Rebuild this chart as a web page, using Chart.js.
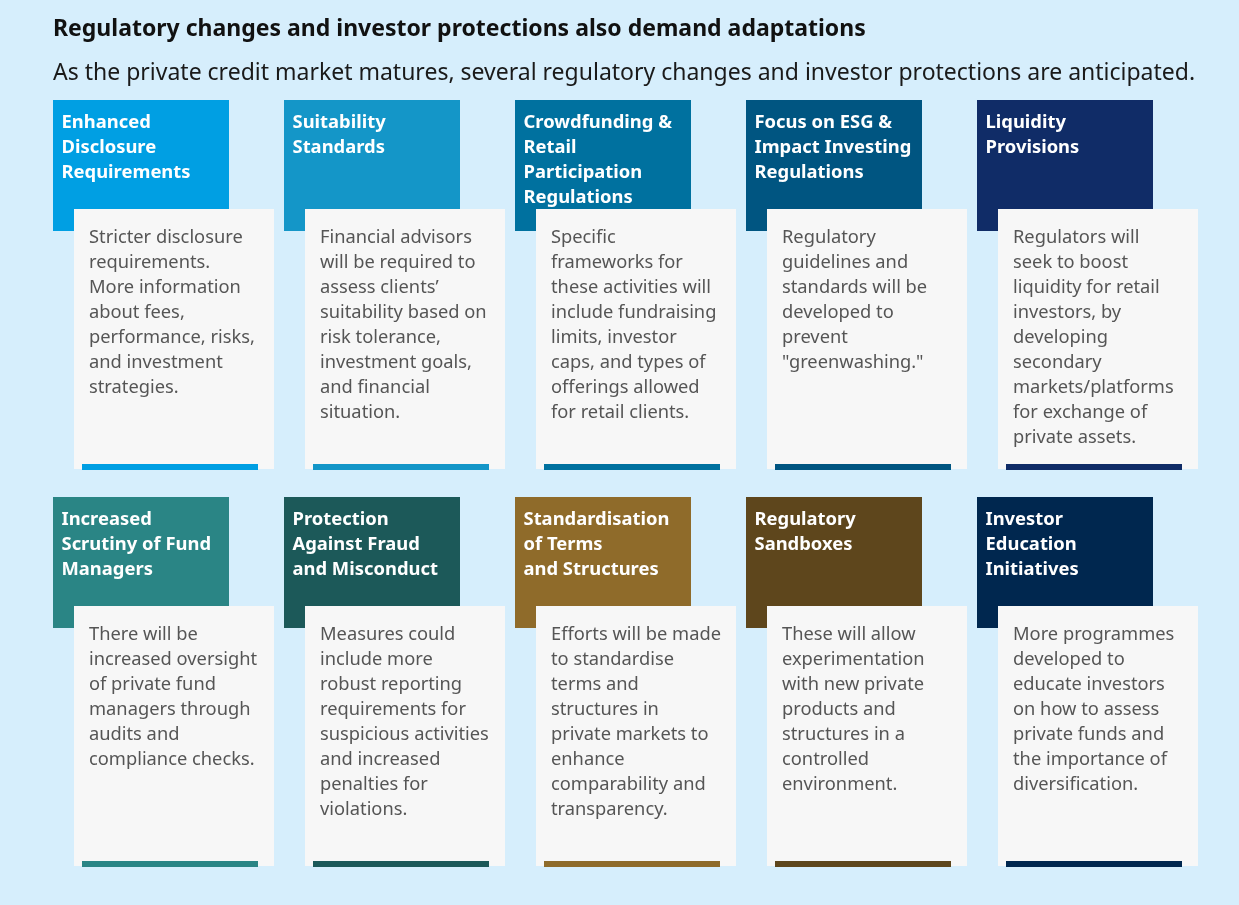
<!DOCTYPE html>
<html>
<head>
<meta charset="utf-8">
<script src="https://cdn.jsdelivr.net/npm/chart.js@4.4.1/dist/chart.umd.min.js"></script>
<style>
html,body{margin:0;padding:0;background:#d6eefc;}
#wrap{position:relative;width:1239px;height:905px;}
</style>
</head>
<body>
<div id="wrap"><canvas id="c" width="1239" height="905"></canvas></div>
<script>
const titleText = "Regulatory changes and investor protections also demand adaptations";
const subtitleText = "As the private credit market matures, several regulatory changes and investor protections are anticipated.";
const columns = [0, 1, 2, 3, 4, 0, 1, 2, 3, 4];
const rows = [0, 0, 0, 0, 0, 1, 1, 1, 1, 1];
const headings = [
  ["Enhanced", "Disclosure", "Requirements"],
  ["Suitability", "Standards"],
  ["Crowdfunding &", "Retail", "Participation", "Regulations"],
  ["Focus on ESG &", "Impact Investing", "Regulations"],
  ["Liquidity", "Provisions"],
  ["Increased", "Scrutiny of Fund", "Managers"],
  ["Protection", "Against Fraud", "and Misconduct"],
  ["Standardisation", "of Terms", "and Structures"],
  ["Regulatory", "Sandboxes"],
  ["Investor", "Education", "Initiatives"]
];
const descriptions = [
  ["Stricter disclosure", "requirements.", "More information", "about fees,", "performance, risks,", "and investment", "strategies."],
  ["Financial advisors", "will be required to", "assess clients\u2019", "suitability based on", "risk tolerance,", "investment goals,", "and financial", "situation."],
  ["Specific", "frameworks for", "these activities will", "include fundraising", "limits, investor", "caps, and types of", "offerings allowed", "for retail clients."],
  ["Regulatory", "guidelines and", "standards will be", "developed to", "prevent", "\"greenwashing.\""],
  ["Regulators will", "seek to boost", "liquidity for retail", "investors, by", "developing", "secondary", "markets/platforms", "for exchange of", "private assets."],
  ["There will be", "increased oversight", "of private fund", "managers through", "audits and", "compliance checks."],
  ["Measures could", "include more", "robust reporting", "requirements for", "suspicious activities", "and increased", "penalties for", "violations."],
  ["Efforts will be made", "to standardise", "terms and", "structures in", "private markets to", "enhance", "comparability and", "transparency."],
  ["These will allow", "experimentation", "with new private", "products and", "structures in a", "controlled", "environment."],
  ["More programmes", "developed to", "educate investors", "on how to assess", "private funds and", "the importance of", "diversification."]
];
const colors = ["#009fe3", "#1496c8", "#00719f", "#005581", "#102c67", "#2a8585", "#1c5959", "#8f6b2a", "#5e461c", "#00274f"];

const FONT = "'Noto Sans', 'Open Sans', sans-serif";

const cardPlugin = {
  id: 'cards',
  afterDatasetsDraw(chart) {
    const ctx = chart.ctx;
    const meta = chart.getDatasetMeta(0);
    ctx.save();
    meta.data.forEach((pt, i) => {
      const X = pt.x - 115.5;
      const Y = Math.round(pt.y - 184.5);
      const c = colors[i];
      // header block
      ctx.fillStyle = c;
      ctx.fillRect(X, Y, 176, 131);
      // white body box
      ctx.fillStyle = '#f7f7f7';
      ctx.fillRect(X + 21, Y + 109, 200, 260);
      // accent bar
      ctx.fillStyle = c;
      ctx.fillRect(X + 29, Y + 364, 176, 6);
      // heading text
      ctx.fillStyle = '#ffffff';
      ctx.font = "bold 18.4px " + FONT;
      ctx.textBaseline = 'alphabetic';
      ctx.textAlign = 'left';
      headings[i].forEach((l, k) => ctx.fillText(l, X + 8.5, Y + 28 + 25 * k));
      // description text
      ctx.fillStyle = '#555555';
      ctx.font = "18.3px " + FONT;
      descriptions[i].forEach((l, k) => ctx.fillText(l, X + 36, Y + 143 + 25 * k));
    });
    ctx.restore();
  }
};

new Chart(document.getElementById('c'), {
  type: 'scatter',
  data: {
    datasets: [{
      data: columns.map((x, i) => ({x: x, y: rows[i]})),
      pointRadius: 0,
      pointHoverRadius: 0
    }]
  },
  options: {
    responsive: false,
    animation: false,
    events: [],
    layout: {padding: {left: 53, right: 31, top: 0, bottom: 25}},
    scales: {
      x: {type: 'linear', min: -0.5, max: 4.5, display: false},
      y: {type: 'linear', min: -0.5, max: 1.5, reverse: true, display: false}
    },
    plugins: {
      legend: {display: false},
      tooltip: {enabled: false},
      title: {
        display: true, text: titleText, align: 'start', color: '#111111',
        font: {family: FONT, size: 23, weight: 'bold', lineHeight: 1.1},
        padding: {top: 17, bottom: 0}
      },
      subtitle: {
        display: true, text: subtitleText, align: 'start', color: '#1a1a1a',
        font: {family: FONT, size: 23, weight: 'normal', lineHeight: 1.1},
        padding: {top: 18.9, bottom: 0}
      }
    }
  },
  plugins: [cardPlugin]
});
</script>
</body>
</html>
